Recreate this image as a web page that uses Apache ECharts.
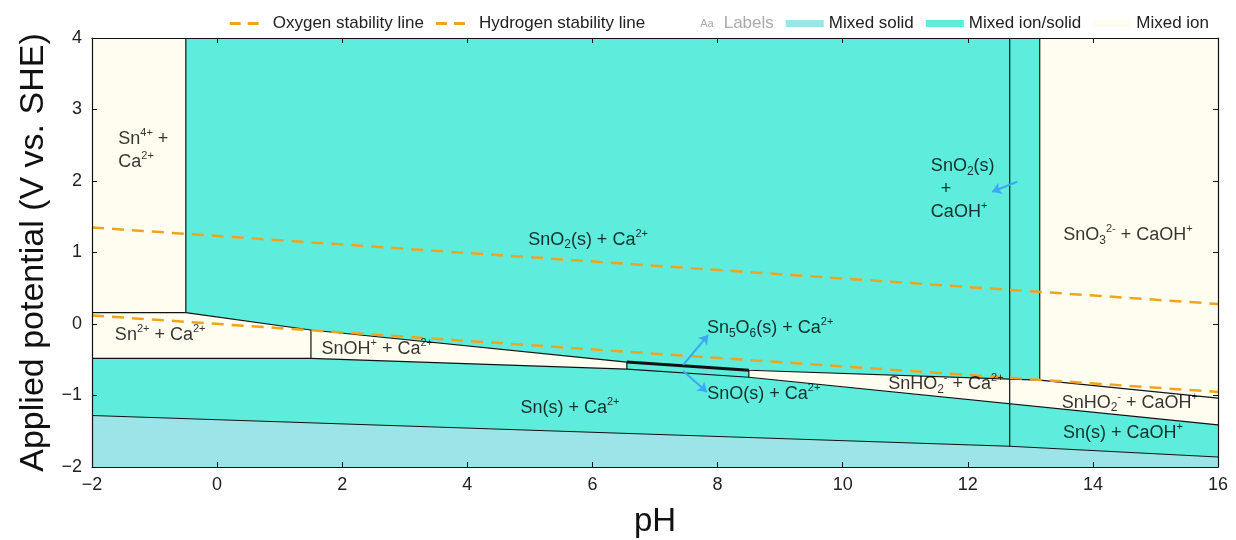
<!DOCTYPE html>
<html>
<head>
	<meta http-equiv="Content-Type" content="text/html; charset=utf-8" />
	<script src="https://cdn.jsdelivr.net/npm/echarts@6/dist/echarts.min.js"></script>
	<title>Pourbaix Sn-Ca</title>
	<style>
		html, body { margin: 0; padding: 0; background: #fff; }
		#e { width: 1236px; height: 540px; }
	</style>
</head>
<body>
	<div id="e"></div>
	<script>
		// axis ranges and ticks
		var pHRange = [-2, 16];
		var ERange = [-2, 4];
		var pHStep = 2;
		var EStep = 1;

		// water stability lines (pH, E)
		var oxygenLine = [[-2, 1.35], [16, 0.28]];
		var hydrogenLine = [[-2, 0.12], [16, -0.95]];

		// region polygons (pH, E)
		var mixedSolid = [
			[[-2, -1.28], [12.67, -1.71], [16, -1.86], [16, -2], [-2, -2]]
		];
		var mixedIonSolid = [
			[[-0.5, 4], [13.15, 4], [13.15, -0.785], [8.5, -0.647], [6.55, -0.532], [1.5, -0.084], [-0.5, 0.16]],
			[[-2, -0.48], [1.5, -0.48], [6.55, -0.63], [6.55, -0.532], [8.5, -0.647], [8.5, -0.745], [16, -1.41], [16, -1.86], [12.67, -1.71], [-2, -1.28]]
		];
		var mixedIon = [
			[[-2, 4], [-0.5, 4], [-0.5, 0.16], [-2, 0.16]],
			[[-2, 0.16], [-0.5, 0.16], [1.5, -0.084], [6.55, -0.532], [6.55, -0.63], [1.5, -0.48], [-2, -0.48]],
			[[8.5, -0.647], [13.15, -0.785], [16, -1.038], [16, -1.41], [8.5, -0.745]],
			[[13.15, 4], [16, 4], [16, -1.038], [13.15, -0.785]]
		];

		// phase boundaries (pH, E)
		var boundaries = [
			[[-2, 0.16], [-0.5, 0.16]],
			[[-0.5, 0.16], [-0.5, 4]],
			[[-0.5, 0.16], [1.5, -0.084], [6.55, -0.532], [8.5, -0.647], [13.15, -0.785], [16, -1.038]],
			[[-2, -0.48], [1.5, -0.48], [6.55, -0.63], [8.5, -0.745], [16, -1.41]],
			[[-2, -1.28], [12.67, -1.71], [16, -1.86]],
			[[1.5, -0.084], [1.5, -0.48]],
			[[6.55, -0.532], [6.55, -0.63]],
			[[8.5, -0.647], [8.5, -0.745]],
			[[12.67, 4], [12.67, -1.71]],
			[[13.15, 4], [13.15, -0.785]]
		];
		var sn5o6Line = [[6.55, -0.532], [8.5, -0.647]];

		// arrows [from, to]
		var arrows = [
			[[7.45, -0.573], [7.85, -0.154]],
			[[7.45, -0.657], [7.83, -0.951]],
			[[12.79, 1.99], [12.39, 1.85]]
		];

		// region labels
		var labelTexts = [
			'Sn{sup|4+} +\nCa{sup|2+}',
			'SnO{sub|2}(s) + Ca{sup|2+}',
			'SnO{sub|2}(s)\n  +\nCaOH{sup|+}',
			'SnO{sub|3}{sup|2-} + CaOH{sup|+}',
			'Sn{sup|2+} + Ca{sup|2+}',
			'SnOH{sup|+} + Ca{sup|2+}',
			'Sn{sub|5}O{sub|6}(s) + Ca{sup|2+}',
			'SnO(s) + Ca{sup|2+}',
			'Sn(s) + Ca{sup|2+}',
			'SnHO{sub|2}{sup|-} + Ca{sup|2+}',
			'SnHO{sub|2}{sup|-} + CaOH{sup|+}',
			'Sn(s) + CaOH{sup|+}'
		];
		var labelPH = [-1.58, 5.93, 11.41, 14.56, -0.91, 2.56, 7.83, 8.74, 5.64, 11.65, 14.59, 14.48];
		var labelE = [2.43, 1.18, 1.89, 1.24, -0.15, -0.35, -0.056, -0.98, -1.17, -0.84, -1.10, -1.52];
		var labelAlign = ['left', 'center', 'left', 'center', 'center', 'center', 'left', 'center', 'center', 'center', 'center', 'center'];

		var font = "'Liberation Sans', Arial, sans-serif";
		var colSolid = '#9de4e8', colIonSolid = '#5eeddc', colIon = '#fffdf0';
		var orange = '#f0a41e';
		var dashIcon = 'path://M0,2h11v3h-11z M18,2h11v3h-11z M0,0L0,0 M38,7L38,7';

		function minus(v) { return String(v).replace('-', '\u2212'); }

		function polySeries(name, polys, color) {
			return {
				name: name,
				type: 'custom',
				silent: true,
				z: 1,
				itemStyle: { color: color },
				data: polys.map(function (p, i) { return [p[0][0], p[0][1], i]; }),
				renderItem: function (params, api) {
					var pts = polys[params.dataIndex].map(function (p) { return api.coord(p); });
					return { type: 'polygon', shape: { points: pts }, style: { fill: color } };
				}
			};
		}

		var series = [
			polySeries('Mixed solid', mixedSolid, colSolid),
			polySeries('Mixed ion/solid', mixedIonSolid, colIonSolid),
			polySeries('Mixed ion', mixedIon, colIon)
		];
		boundaries.forEach(function (b) {
			series.push({
				type: 'line', data: b, symbol: 'none', silent: true, z: 3,
				lineStyle: { color: '#111', width: 1.2 }
			});
		});
		series.push({
			type: 'line', data: sn5o6Line, symbol: 'none', silent: true, z: 3,
			lineStyle: { color: '#111', width: 3 }
		});
		series.push({
			name: 'Oxygen stability line', type: 'line', data: oxygenLine, symbol: 'none', z: 4,
			itemStyle: { color: orange },
			lineStyle: { color: orange, width: 2.5, type: [12, 8] }
		});
		series.push({
			name: 'Hydrogen stability line', type: 'line', data: hydrogenLine, symbol: 'none', z: 4,
			itemStyle: { color: orange },
			lineStyle: { color: orange, width: 2.5, type: [12, 8] }
		});
		series.push({
			type: 'lines', coordinateSystem: 'cartesian2d', z: 5, silent: true,
			symbol: ['none', 'arrow'], symbolSize: 9,
			lineStyle: { color: '#3ea6f5', width: 2, opacity: 1 },
			data: arrows.map(function (a) { return { coords: a }; })
		});
		series.push({
			name: 'Labels', type: 'scatter', z: 6, silent: true, symbolSize: 1,
			itemStyle: { color: 'rgba(0,0,0,0)' },
			data: labelTexts.map(function (t, i) {
				return {
					value: [labelPH[i], labelE[i]], name: t,
					label: { align: labelAlign[i] }
				};
			}),
			label: {
				show: true, position: 'inside', formatter: '{b}',
				color: '#000', fontSize: 18, fontFamily: font, lineHeight: 23,
				rich: {
					sup: { fontSize: 11, verticalAlign: 'top', lineHeight: 22, fontFamily: font, color: '#000' },
					sub: { fontSize: 12, verticalAlign: 'bottom', lineHeight: 23, fontFamily: font, color: '#000' }
				}
			}
		});

		var axisBase = {
			z: 10,
			axisLine: { show: true, onZero: false, lineStyle: { color: '#111', width: 1.2 } },
			axisTick: { show: true, inside: true, length: 5, lineStyle: { color: '#111' } },
			splitLine: { show: false }
		};
		function xAx(pos, labels) {
			return Object.assign({}, axisBase, {
				type: 'value', position: pos, min: pHRange[0], max: pHRange[1], interval: pHStep,
				name: labels ? 'pH' : '', nameLocation: 'middle', nameGap: 38,
				nameTextStyle: { fontSize: 33, fontFamily: font, color: '#111' },
				axisLabel: { show: labels, formatter: minus, fontSize: 18, fontFamily: font, color: '#222', margin: 9 }
			});
		}
		function yAx(pos, labels) {
			return Object.assign({}, axisBase, {
				type: 'value', position: pos, min: ERange[0], max: ERange[1], interval: EStep,
				name: labels ? 'Applied potential (V vs. SHE)' : '', nameLocation: 'middle', nameGap: 32,
				nameTextStyle: { fontSize: 34, fontFamily: font, color: '#111' },
				axisLabel: { show: labels, formatter: minus, fontSize: 18, fontFamily: font, color: '#222', margin: 10 }
			});
		}

		var myChart = echarts.init(document.getElementById('e'));
		var option = {
			animation: false,
			backgroundColor: '#fff',
			grid: { left: 92, right: 18, top: 38, bottom: 73, containLabel: false, outerBoundsMode: 'none' },
			legend: {
				right: 22, top: 10, itemGap: 12, itemWidth: 38, itemHeight: 7,
				textStyle: {
					fontSize: 17, fontFamily: font, color: '#222',
					rich: { aa: { fontSize: 11, color: '#aaa', fontFamily: font, padding: [0, 10, 0, 0] } }
				},
				formatter: function (name) { return name === 'Labels' ? '{aa|Aa}Labels' : name; },
				data: [
					{ name: 'Oxygen stability line', icon: dashIcon, itemStyle: { color: orange } },
					{ name: 'Hydrogen stability line', icon: dashIcon, itemStyle: { color: orange } },
					{ name: 'Labels', icon: 'rect', itemStyle: { opacity: 0 }, textStyle: { color: '#aaa' } },
					{ name: 'Mixed solid', icon: 'rect' },
					{ name: 'Mixed ion/solid', icon: 'rect' },
					{ name: 'Mixed ion', icon: 'rect' }
				]
			},
			xAxis: [xAx('bottom', true), xAx('top', false)],
			yAxis: [yAx('left', true), yAx('right', false)],
			series: series
		};
		myChart.setOption(option);
	</script>
</body>
</html>
